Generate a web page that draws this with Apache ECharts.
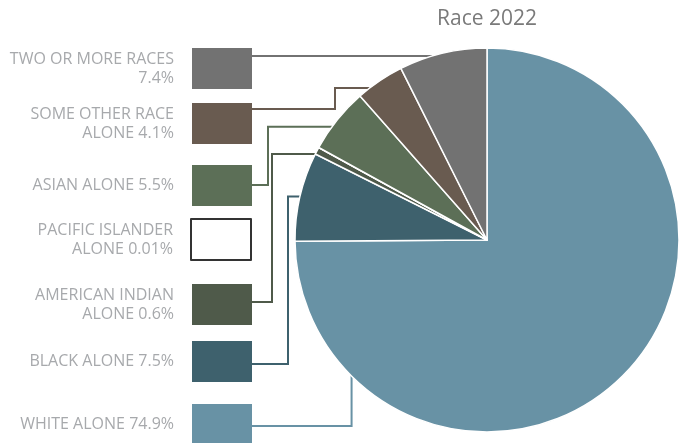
<!DOCTYPE html>
<html>
<head>
<meta charset="utf-8">
<script src="https://cdn.jsdelivr.net/npm/echarts@6/dist/echarts.min.js"></script>
<style>
html, body { margin: 0; padding: 0; background: #fff; }
#main { width: 679px; height: 443px; }
</style>
</head>
<body>
<div id="main"></div>
<script>
// slices, clockwise from 12 o'clock
var categories = ['WHITE ALONE', 'BLACK ALONE', 'AMERICAN INDIAN ALONE', 'PACIFIC ISLANDER ALONE',
                  'ASIAN ALONE', 'SOME OTHER RACE ALONE', 'TWO OR MORE RACES'];
var legendText = ['WHITE ALONE', 'BLACK ALONE', 'AMERICAN INDIAN\nALONE', 'PACIFIC ISLANDER\nALONE',
                  'ASIAN ALONE', 'SOME OTHER RACE\nALONE', 'TWO OR MORE RACES\n'];
var shares = [74.9, 7.5, 0.6, 0.01, 5.5, 4.1, 7.4];
var colors = ['#6892a5', '#3e616d', '#4f5a4a', '#ffffff', '#5c6f57', '#695b50', '#727272'];

// legend boxes + leader lines (layout only)
var boxTop = [404, 341, 284, 218, 165, 103, 48];
var lineY = [426, 364, 302, null, 185, 109, 56];
var elbowX = [null, 288, 272, null, 268, 335, null];
var anchorAt = [0.834, 0.5, 0, null, 0.37, 0.25, 0.377];

var cx = 487, cy = 240, r = 192, boxRight = 252;

var myChart = echarts.init(document.getElementById('main'));

function labelOf(name) {
    var i = categories.indexOf(name);
    var t = legendText[i];
    return t + (t.charAt(t.length - 1) === '\n' ? '' : ' ') + shares[i] + '%';
}

var legends = categories.map(function (name, i) {
    var item = { name: name };
    if (colors[i] === '#ffffff') {
        item.itemStyle = { borderColor: '#333333', borderWidth: 2 };
    }
    return {
        data: [item],
        orient: 'vertical',
        right: 679 - boxRight,
        top: boxTop[i],
        padding: 0,
        align: 'right',
        icon: 'rect',
        itemWidth: 60,
        itemHeight: 41,
        selectedMode: false,
        itemStyle: { borderWidth: 0 },
        formatter: labelOf,
        textStyle: {
            fontFamily: 'Open Sans',
            fontSize: 16,
            lineHeight: 19,
            color: '#a7a9ac',
            align: 'right',
            padding: [0, 13, 0, 0]
        }
    };
});

// leader lines from each legend box to a point on its slice
var total = shares.reduce(function (a, b) { return a + b; }, 0);
var acc = 0;
var lines = [];
shares.forEach(function (v, i) {
    var start = acc / total * 360;
    acc += v;
    var end = acc / total * 360;
    if (anchorAt[i] === null) return;
    var th = (start + (end - start) * anchorAt[i]) * Math.PI / 180;
    var px = cx + r * Math.sin(th);
    var py = cy - r * Math.cos(th);
    var ex = elbowX[i] === null ? px : elbowX[i];
    lines.push({
        type: 'polyline',
        z: 1,
        silent: true,
        shape: { points: [[boxRight, lineY[i]], [ex, lineY[i]], [ex, py], [px, py]] },
        style: { stroke: colors[i], lineWidth: 2, fill: null }
    });
});

var option = {
    backgroundColor: '#ffffff',
    animation: false,
    title: {
        text: 'Race 2022',
        left: 437,
        top: 9,
        padding: 0,
        textStyle: { fontFamily: 'Open Sans', fontSize: 21, fontWeight: 'normal', color: '#7a7a7a' }
    },
    legend: legends,
    graphic: lines,
    series: [{
        type: 'pie',
        z: 2,
        center: [cx, cy],
        radius: r,
        startAngle: 90,
        clockwise: true,
        silent: true,
        label: { show: false },
        labelLine: { show: false },
        itemStyle: { borderColor: '#ffffff', borderWidth: 1.5 },
        data: categories.map(function (name, i) {
            return { name: name, value: shares[i], itemStyle: { color: colors[i] } };
        })
    }]
};

myChart.setOption(option);
</script>
</body>
</html>
